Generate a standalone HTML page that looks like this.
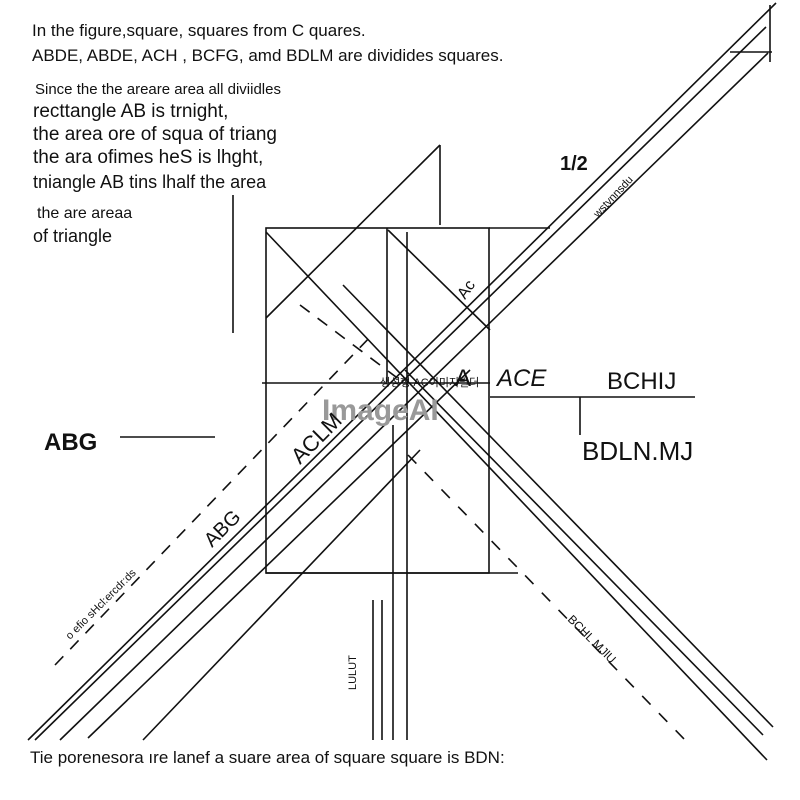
<!DOCTYPE html>
<html><head><meta charset="utf-8"><style>
html,body{margin:0;padding:0;background:#fff;width:800px;height:800px;overflow:hidden}
svg{display:block}
text{font-family:"Liberation Sans","Noto Sans CJK KR",sans-serif;fill:#111}
</style></head><body>
<svg width="800" height="800" viewBox="0 0 800 800" xmlns="http://www.w3.org/2000/svg">
<g stroke="#111" stroke-width="1.6" fill="none">
<!-- big NE diagonals -->
<line x1="28" y1="740" x2="776" y2="3"/>
<line x1="35" y1="740" x2="766" y2="27"/>
<line x1="60" y1="740" x2="768" y2="53"/>
<line x1="88" y1="738" x2="470" y2="370"/>
<line x1="143" y1="740" x2="420" y2="450"/>
<line x1="770" y1="5" x2="770" y2="62"/>
<line x1="730" y1="52" x2="772" y2="52"/>
<!-- rect -->
<rect x="266" y="228" width="223" height="345"/>
<line x1="489" y1="228" x2="550" y2="228"/>
<line x1="387" y1="228" x2="387" y2="382"/>
<line x1="407" y1="232" x2="407" y2="740"/>
<line x1="393" y1="425" x2="393" y2="740"/>
<line x1="262" y1="383" x2="490" y2="383"/>
<line x1="490" y1="397" x2="695" y2="397"/>
<line x1="580" y1="397" x2="580" y2="435"/>
<!-- NW-SE diagonals -->
<line x1="266" y1="232" x2="767" y2="760"/>
<line x1="343" y1="285" x2="773" y2="727"/>
<line x1="405" y1="370" x2="763" y2="735"/>
<line x1="388" y1="230" x2="490" y2="330"/>
<line x1="266" y1="318" x2="440" y2="145"/>
<line x1="440" y1="145" x2="440" y2="225"/>
<line x1="233" y1="195" x2="233" y2="333"/>
<line x1="120" y1="437" x2="215" y2="437"/>
<line x1="373" y1="600" x2="373" y2="740"/>
<line x1="382" y1="600" x2="382" y2="740"/>
<line x1="266" y1="573" x2="518" y2="573"/>
<!-- dashed -->
<line x1="55" y1="665" x2="372" y2="335" stroke-dasharray="12,10"/>
<line x1="300" y1="305" x2="400" y2="380" stroke-dasharray="12,10"/>
<line x1="408" y1="455" x2="685" y2="740" stroke-dasharray="12,12"/>
</g>
<g font-size="17">
<text x="32" y="36">In the figure,square, squares from C quares.</text>
<text x="32" y="61">ABDE,    ABDE, ACH , BCFG, amd BDLM are dividides squares.</text>
<text x="35" y="94" font-size="15">Sіnce the the areare area all diviidles</text>
<text x="33" y="117" font-size="19">recttangle AB is trnight,</text>
<text x="33" y="140" font-size="19">the area ore of squa of triang</text>
<text x="33" y="163" font-size="19">the ara ofimes heS is lhght,</text>
<text x="33" y="188" font-size="18">tniangle AB tins lhalf the area</text>
<text x="37" y="218" font-size="16">the are areaa</text>
<text x="33" y="242" font-size="18">of triangle</text>
<text x="560" y="170" font-size="20" font-weight="bold">1/2</text>
<text x="44" y="450" font-size="24" font-weight="bold">ABG</text>
<text x="497" y="386" font-size="24" font-style="italic">ACE</text>
<text x="455" y="386" font-size="24">A</text>
<text x="607" y="389" font-size="24">BCHIJ</text>
<text x="582" y="460" font-size="26">BDLN.MJ</text>
<text x="380" y="386" font-size="11">생성형 AC이미지빌더</text>
<text x="322" y="420" font-size="30" font-weight="bold" style="fill:#999">ImageAI</text>
<text x="0" y="0" font-size="22" transform="translate(300,465) rotate(-45)">ACLM</text>
<text x="0" y="0" font-size="20" transform="translate(212,548) rotate(-45)">ABG</text>
<text x="0" y="0" font-size="16" transform="translate(465,300) rotate(-55)">Ac</text>
<text x="0" y="0" font-size="11" transform="translate(70,640) rotate(-45)">o  efio  sHcl:ercdr:ds</text>
<text x="0" y="0" font-size="11" transform="translate(598,218) rotate(-47)">wstvnnsdu</text>
<text x="0" y="0" font-size="12" transform="translate(567,620) rotate(45)">BCHL  MJlU</text>
<text x="0" y="0" font-size="11" transform="translate(356,690) rotate(-90)">LULUT</text>
<text x="30" y="763" font-size="17">Tie porenesora ıre lanef a suare area of square square is BDN:</text>
</g>
</svg>
</body></html>
